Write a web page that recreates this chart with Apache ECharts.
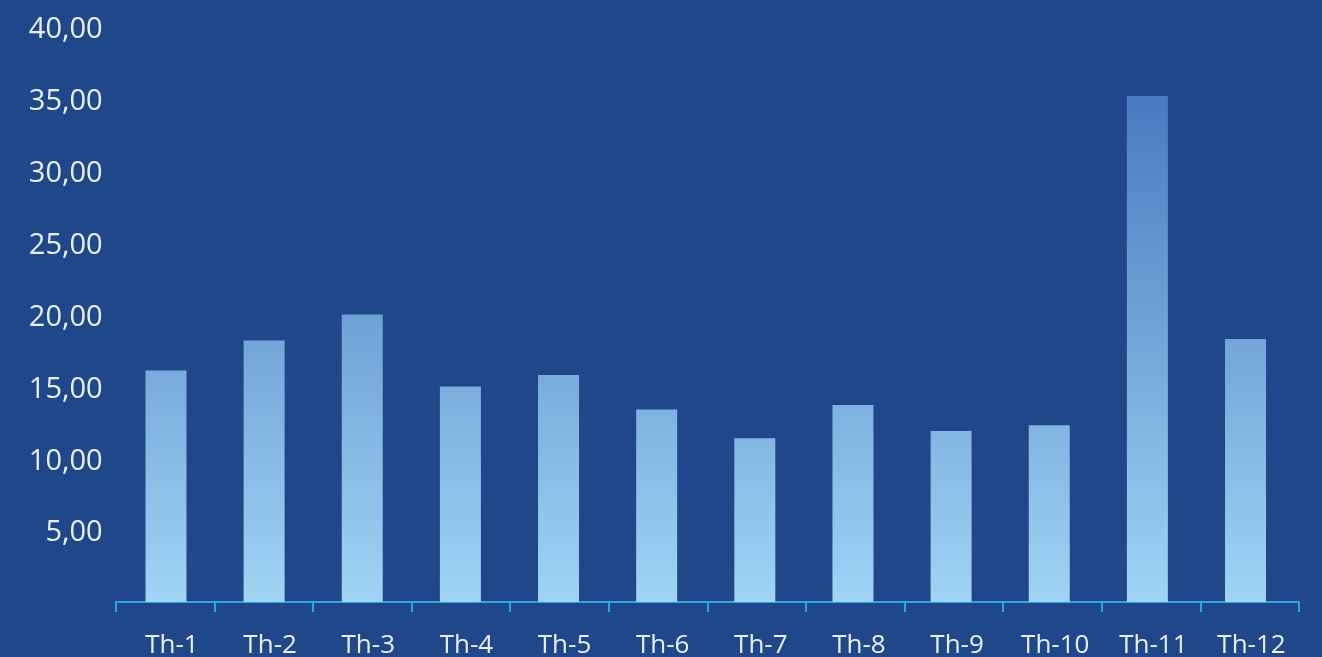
<!DOCTYPE html>
<html><head><meta charset="utf-8">
<script src="https://cdn.jsdelivr.net/npm/echarts@6/dist/echarts.min.js"></script>
<style>html,body{margin:0;padding:0;background:#204789;}#c{width:1322px;height:657px;}</style>
</head><body><div id="c"></div>
<script>
const categories = ['Th-1','Th-2','Th-3','Th-4','Th-5','Th-6','Th-7','Th-8','Th-9','Th-10','Th-11','Th-12'];
const values = [16.1, 18.2, 20.0, 15.0, 15.8, 13.4, 11.4, 13.7, 11.9, 12.3, 35.2, 18.3];
const yTicks = { min: 0, max: 40, interval: 5 };

const chart = echarts.init(document.getElementById('c'));
const textColor = '#eaeff7';
const g = { containLabel: false, outerBoundsMode: 'none' };
chart.setOption({
  backgroundColor: '#204789',
  animation: false,
  grid: [
    Object.assign({ left: 115.7, right: 23, top: 27, bottom: 55 }, g),
    Object.assign({ left: 116.9, right: 27.4, top: 27, bottom: 55 }, g),
    Object.assign({ left: 115.7, right: 23, top: 30, bottom: 52 }, g)
  ],
  xAxis: [{
    type: 'category',
    gridIndex: 0,
    data: categories,
    axisLine: { lineStyle: { color: '#2aa7e0', width: 2 } },
    axisTick: { show: true, length: 10, lineStyle: { color: '#2aa7e0', width: 2 } },
    axisLabel: { show: false }
  }, {
    type: 'category',
    gridIndex: 1,
    data: categories,
    axisLine: { show: false },
    axisTick: { show: false },
    axisLabel: { color: textColor, fontFamily: 'Open Sans', fontSize: 26, margin: 31, padding: [0, 0, 0, 12] }
  }, {
    type: 'category',
    gridIndex: 2,
    data: categories,
    show: false
  }],
  yAxis: [{
    type: 'value',
    gridIndex: 0,
    min: yTicks.min, max: yTicks.max, interval: yTicks.interval,
    show: false
  }, {
    type: 'value',
    gridIndex: 1,
    min: yTicks.min, max: yTicks.max, interval: yTicks.interval,
    show: false
  }, {
    type: 'value',
    gridIndex: 2,
    min: yTicks.min, max: yTicks.max, interval: yTicks.interval,
    axisLine: { show: false },
    axisTick: { show: false },
    splitLine: { show: false },
    axisLabel: {
      color: textColor, fontFamily: 'Open Sans', fontSize: 29, margin: 13,
      formatter: v => v === 0 ? '' : v.toFixed(2).replace('.', ',')
    }
  }],
  series: [{
    type: 'bar',
    xAxisIndex: 1,
    yAxisIndex: 1,
    data: values,
    barWidth: 41,
    itemStyle: {
      color: new echarts.graphic.LinearGradient(0, 96, 0, 602, [
        { offset: 0, color: '#4a7abf' },
        { offset: 1, color: '#9fd4f4' }
      ], true)
    }
  }]
});
</script></body></html>
